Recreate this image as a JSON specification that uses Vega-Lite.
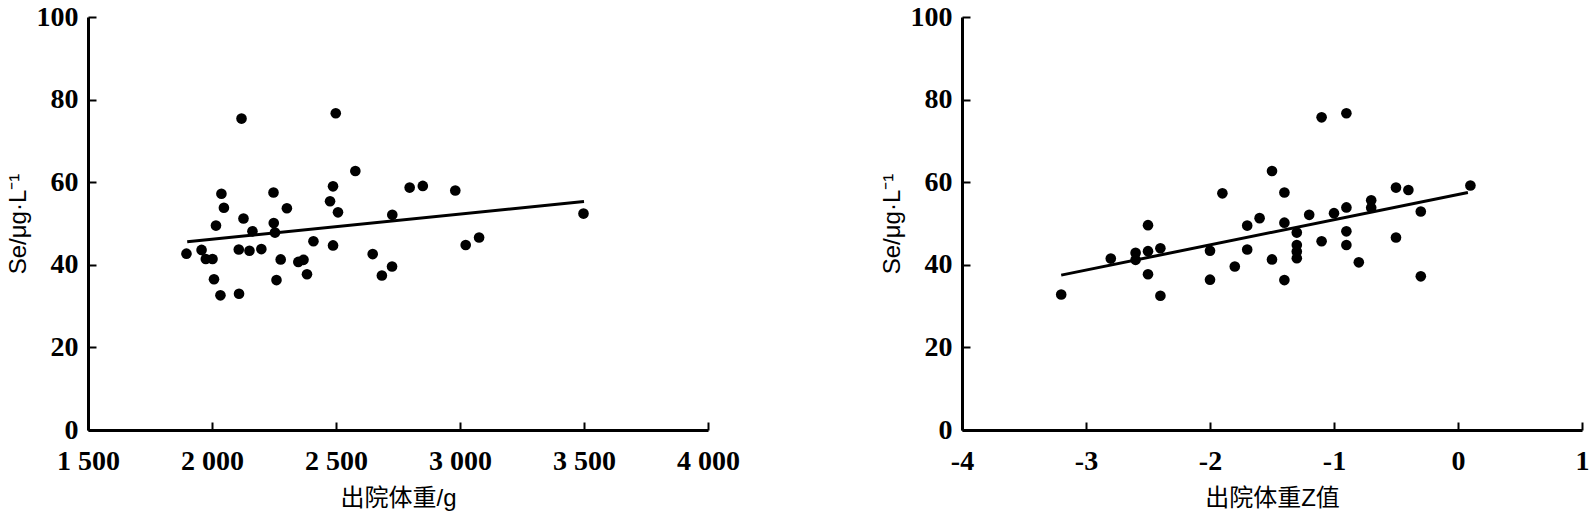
{
  "$schema": "https://vega.github.io/schema/vega-lite/v6.json",
  "padding": {"left": 6, "top": 3, "right": 5, "bottom": 5},
  "spacing": 140,
  "background": "white",
  "config": {
    "view": {"stroke": null},
    "axis": {
      "grid": false,
      "domainColor": "#000",
      "domainWidth": 3,
      "tickColor": "#000",
      "tickWidth": 2,
      "tickSize": -8,
      "labelFont": "Liberation Serif",
      "labelFontWeight": "bold",
      "labelFontSize": 28,
      "labelColor": "#000",
      "labelFlush": false,
      "labelOverlap": false,
      "titleFont": "Liberation Sans, Noto Sans CJK SC",
      "titleFontWeight": "normal",
      "titleFontSize": 24,
      "titleColor": "#000"
    },
    "axisX": {"labelPadding": 25, "titlePadding": 11},
    "axisY": {"labelPadding": 18, "titlePadding": 6}
  },
  "datasets": {
    "left": [
      {"w": 2119, "se": 75.4}, {"w": 2499, "se": 76.7}, {"w": 2578, "se": 62.7},
      {"w": 2038, "se": 57.2}, {"w": 2248, "se": 57.5}, {"w": 2488, "se": 59.0},
      {"w": 2048, "se": 53.8}, {"w": 2302, "se": 53.7}, {"w": 2476, "se": 55.4},
      {"w": 2508, "se": 52.7}, {"w": 2127, "se": 51.2}, {"w": 2016, "se": 49.5},
      {"w": 2249, "se": 50.1}, {"w": 2163, "se": 48.1}, {"w": 2254, "se": 47.8},
      {"w": 2727, "se": 52.1}, {"w": 1897, "se": 42.7}, {"w": 1958, "se": 43.6},
      {"w": 1975, "se": 41.4}, {"w": 2002, "se": 41.4}, {"w": 2108, "se": 43.7},
      {"w": 2151, "se": 43.4}, {"w": 2199, "se": 43.8}, {"w": 2409, "se": 45.7},
      {"w": 2488, "se": 44.7}, {"w": 2277, "se": 41.3}, {"w": 2348, "se": 40.7},
      {"w": 2369, "se": 41.2}, {"w": 2648, "se": 42.6}, {"w": 2726, "se": 39.6},
      {"w": 2685, "se": 37.4}, {"w": 2383, "se": 37.7}, {"w": 2008, "se": 36.5},
      {"w": 2260, "se": 36.3}, {"w": 2034, "se": 32.6}, {"w": 2109, "se": 33.0},
      {"w": 2797, "se": 58.7}, {"w": 2850, "se": 59.1}, {"w": 2981, "se": 58.0},
      {"w": 3498, "se": 52.4}, {"w": 3023, "se": 44.8}, {"w": 3077, "se": 46.6}
    ],
    "leftFit": [{"w": 1900, "se": 45.6}, {"w": 3500, "se": 55.3}],
    "right": [
      {"z": -3.2, "se": 32.8}, {"z": -2.8, "se": 41.5}, {"z": -2.6, "se": 42.9},
      {"z": -2.6, "se": 41.2}, {"z": -2.5, "se": 49.6}, {"z": -2.5, "se": 43.3},
      {"z": -2.5, "se": 37.7}, {"z": -2.4, "se": 44.0}, {"z": -2.4, "se": 32.5},
      {"z": -2.0, "se": 43.4}, {"z": -2.0, "se": 36.4}, {"z": -1.9, "se": 57.3},
      {"z": -1.8, "se": 39.6}, {"z": -1.7, "se": 49.5}, {"z": -1.7, "se": 43.7},
      {"z": -1.6, "se": 51.3}, {"z": -1.5, "se": 62.7}, {"z": -1.5, "se": 41.3},
      {"z": -1.4, "se": 57.5}, {"z": -1.4, "se": 50.2}, {"z": -1.4, "se": 36.3},
      {"z": -1.3, "se": 47.8}, {"z": -1.3, "se": 44.8}, {"z": -1.3, "se": 43.2},
      {"z": -1.3, "se": 41.6}, {"z": -1.2, "se": 52.1}, {"z": -1.1, "se": 45.7},
      {"z": -1.1, "se": 75.7}, {"z": -1.0, "se": 52.5}, {"z": -0.9, "se": 76.7},
      {"z": -0.9, "se": 53.9}, {"z": -0.9, "se": 48.1}, {"z": -0.9, "se": 44.8},
      {"z": -0.8, "se": 40.6}, {"z": -0.7, "se": 55.6}, {"z": -0.7, "se": 53.8},
      {"z": -0.5, "se": 58.7}, {"z": -0.5, "se": 46.6}, {"z": -0.4, "se": 58.1},
      {"z": -0.3, "se": 52.9}, {"z": -0.3, "se": 37.2}, {"z": 0.1, "se": 59.2}
    ],
    "rightFit": [{"z": -3.2, "se": 37.5}, {"z": 0.08, "se": 57.5}]
  },
  "hconcat": [
    {
      "width": 620,
      "height": 413,
      "encoding": {
        "x": {
          "field": "w",
          "type": "quantitative",
          "title": "出院体重/g",
          "scale": {"domain": [1500, 4000], "nice": false, "zero": false},
          "axis": {"values": [1500, 2000, 2500, 3000, 3500, 4000], "labelExpr": "replace(format(datum.value, ','), ',', ' ')"}
        },
        "y": {
          "field": "se",
          "type": "quantitative",
          "title": "Se/μg·L⁻¹",
          "scale": {"domain": [0, 100], "nice": false},
          "axis": {"values": [0, 20, 40, 60, 80, 100]}
        }
      },
      "layer": [
        {
          "data": {"name": "left"},
          "mark": {"type": "circle", "size": 113, "color": "#000", "opacity": 1}
        },
        {
          "data": {"name": "leftFit"},
          "mark": {"type": "line", "color": "#000", "strokeWidth": 3}
        }
      ]
    },
    {
      "width": 620,
      "height": 413,
      "encoding": {
        "x": {
          "field": "z",
          "type": "quantitative",
          "title": "出院体重Z值",
          "scale": {"domain": [-4, 1], "nice": false, "zero": false},
          "axis": {"values": [-4, -3, -2, -1, 0, 1], "labelExpr": "datum.value + ''"}
        },
        "y": {
          "field": "se",
          "type": "quantitative",
          "title": "Se/μg·L⁻¹",
          "scale": {"domain": [0, 100], "nice": false},
          "axis": {"values": [0, 20, 40, 60, 80, 100]}
        }
      },
      "layer": [
        {
          "data": {"name": "right"},
          "mark": {"type": "circle", "size": 113, "color": "#000", "opacity": 1}
        },
        {
          "data": {"name": "rightFit"},
          "mark": {"type": "line", "color": "#000", "strokeWidth": 3}
        }
      ]
    }
  ]
}
